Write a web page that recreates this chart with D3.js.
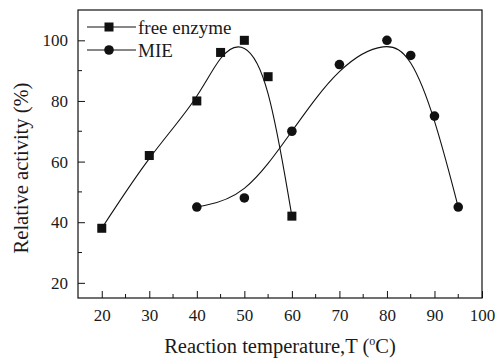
<!DOCTYPE html>
<html>
<head>
<meta charset="utf-8">
<script src="https://cdn.jsdelivr.net/npm/d3@7"></script>
<style>
  html, body { margin: 0; padding: 0; background: #fff; }
  svg { display: block; }
  svg text { font-family: "Liberation Serif", "Times New Roman", Times, "DejaVu Serif", serif !important; fill: #1a1a1a; }
</style>
</head>
<body>
<svg id="chart" width="498" height="358"></svg>
<script>
// Relative activity vs reaction temperature
const freeTemps = [20, 30, 40, 45, 50, 55, 60];
const freeActivity = [38, 62, 80, 96, 100, 88, 42];
const mieTemps = [40, 50, 60, 70, 80, 85, 90, 95];
const mieActivity = [45, 48, 70, 92, 100, 95, 75, 45];
const xTicks = [20, 30, 40, 50, 60, 70, 80, 90, 100];
const yTicks = [20, 40, 60, 80, 100];
const seriesNames = ["free enzyme", "MIE"];

const svg = d3.select("#chart");
const plotL = 78, plotR = 482, plotT = 10, plotB = 298;

const x = d3.scaleLinear().domain([15, 100]).range([plotL, plotR]);
const y = d3.scaleLinear().domain([15, 110]).range([plotB, plotT]);

const ink = "#111";

// frame
svg.append("rect")
  .attr("x", plotL).attr("y", plotT)
  .attr("width", plotR - plotL).attr("height", plotB - plotT)
  .attr("fill", "none").attr("stroke", ink).attr("stroke-width", 1.2);

// bottom axis: inward ticks, minor ticks every 5
const xAxis = d3.axisBottom(x).tickValues(xTicks).tickSize(-7).tickPadding(10)
  .tickFormat(d3.format("d"));
const gx = svg.append("g").attr("transform", `translate(0,${plotB})`).call(xAxis);
gx.attr("font-family", null);
gx.select(".domain").remove();
gx.selectAll("line").attr("stroke", ink);
gx.selectAll("text").attr("font-size", 17).attr("dy", "0.78em");
const xMinor = d3.range(25, 100, 10);
svg.append("g").selectAll("line").data(xMinor).join("line")
  .attr("x1", d => x(d)).attr("x2", d => x(d))
  .attr("y1", plotB).attr("y2", plotB - 4)
  .attr("stroke", ink);

// left axis
const yAxis = d3.axisLeft(y).tickValues(yTicks).tickSize(-7).tickPadding(10)
  .tickFormat(d3.format("d"));
const gy = svg.append("g").attr("transform", `translate(${plotL},0)`).call(yAxis);
gy.attr("font-family", null);
gy.select(".domain").remove();
gy.selectAll("line").attr("stroke", ink);
gy.selectAll("text").attr("font-size", 17);
const yMinor = d3.range(30, 110, 20);
svg.append("g").selectAll("line").data(yMinor).join("line")
  .attr("x1", plotL).attr("x2", plotL + 4)
  .attr("y1", d => y(d)).attr("y2", d => y(d))
  .attr("stroke", ink);

// smooth fitted curves
const line = d3.line().x(d => x(d[0])).y(d => y(d[1])).curve(d3.curveBasis);
const freePts = freeTemps.map((t, i) => [t, freeActivity[i]]);
const miePts = mieTemps.map((t, i) => [t, mieActivity[i]]);

svg.append("path").attr("d", line(freePts))
  .attr("fill", "none").attr("stroke", ink).attr("stroke-width", 1.1);
svg.append("path").attr("d", line(miePts))
  .attr("fill", "none").attr("stroke", ink).attr("stroke-width", 1.1);

// markers
const sq = 9;
svg.append("g").selectAll("rect").data(freePts).join("rect")
  .attr("x", d => x(d[0]) - sq / 2).attr("y", d => y(d[1]) - sq / 2)
  .attr("width", sq).attr("height", sq).attr("fill", ink);
svg.append("g").selectAll("circle").data(miePts).join("circle")
  .attr("cx", d => x(d[0])).attr("cy", d => y(d[1])).attr("r", 4.8).attr("fill", ink);

// legend
const lg = svg.append("g");
const legendRows = [{ name: seriesNames[0], shape: "square", yy: 27 },
                    { name: seriesNames[1], shape: "circle", yy: 50 }];
legendRows.forEach(r => {
  lg.append("line").attr("x1", 87).attr("x2", 136).attr("y1", r.yy).attr("y2", r.yy)
    .attr("stroke", ink).attr("stroke-width", 1.1);
  if (r.shape === "square") {
    lg.append("rect").attr("x", 109 - sq / 2).attr("y", r.yy - sq / 2)
      .attr("width", sq).attr("height", sq).attr("fill", ink);
  } else {
    lg.append("circle").attr("cx", 109).attr("cy", r.yy).attr("r", 4.8).attr("fill", ink);
  }
  lg.append("text").attr("x", 138).attr("y", r.yy + 6.5).attr("font-size", 19).text(r.name);
});

// axis titles
svg.append("text")
  .attr("transform", `translate(28,168) rotate(-90)`)
  .attr("text-anchor", "middle").attr("font-size", 20.5)
  .text("Relative activity (%)");

const xt = svg.append("text")
  .attr("x", 280).attr("y", 353)
  .attr("text-anchor", "middle").attr("font-size", 20.5);
xt.append("tspan").text("Reaction temperature,T (");
xt.append("tspan").attr("font-size", 12).attr("dy", -8).text("o");
xt.append("tspan").attr("dy", 8).text("C)");
</script>
</body>
</html>
